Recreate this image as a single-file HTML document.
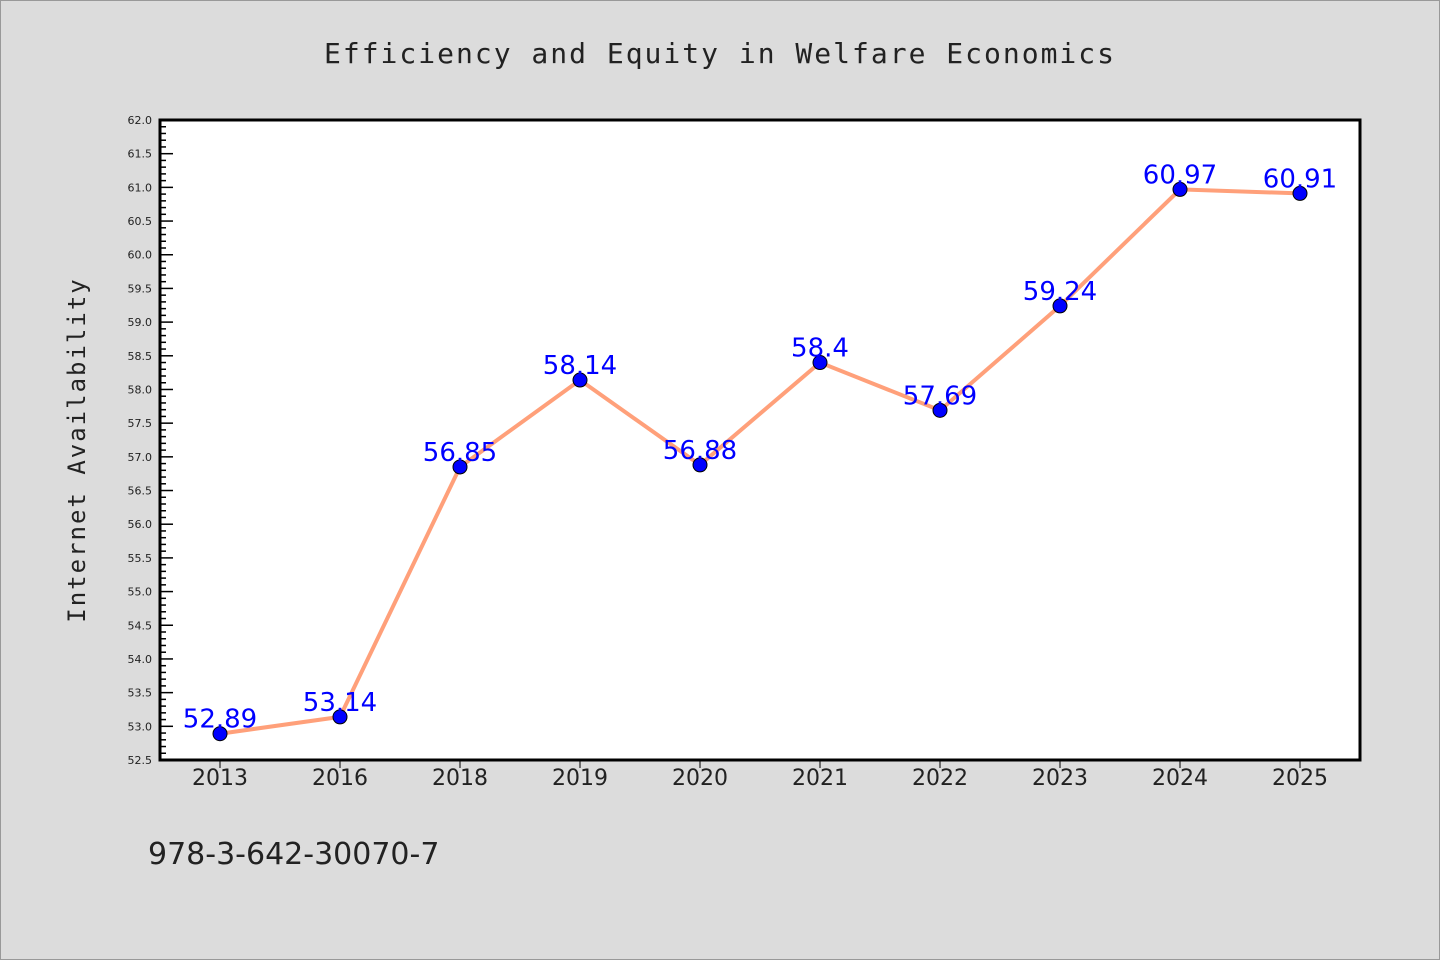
<!DOCTYPE html>
<html><head><meta charset="utf-8"><style>
body{margin:0;background:#dcdcdc;}
svg{display:block;font-family:"DejaVu Sans","Liberation Sans",sans-serif;}
</style></head><body>
<svg id="chart" width="1440" height="960">
<rect x="0.5" y="0.5" width="1439" height="959" fill="#dcdcdc" stroke="#999"/>
<text x="720" y="63" text-anchor="middle" font-size="28" letter-spacing="2" fill="#222" font-family="DejaVu Sans Mono, Liberation Mono, monospace">Efficiency and Equity in Welfare Economics</text>
<rect x="160" y="120" width="1200" height="640" fill="#fff"/>
<g id="yaxis"></g>
<g id="xaxis"></g>
<g id="series"></g>
<rect x="160" y="120" width="1200" height="640" fill="none" stroke="#000" stroke-width="3"/>
<text transform="translate(85,450) rotate(-90)" text-anchor="middle" font-size="24" letter-spacing="2" fill="#222" font-family="DejaVu Sans Mono, Liberation Mono, monospace">Internet Availability</text>
<text x="148" y="864" font-size="30" fill="#222">978-3-642-30070-7</text>
</svg>
<script>
const categories=["2013","2016","2018","2019","2020","2021","2022","2023","2024","2025"];
const values=[52.89,53.14,56.85,58.14,56.88,58.4,57.69,59.24,60.97,60.91];
const valueLabels=["52.89","53.14","56.85","58.14","56.88","58.4","57.69","59.24","60.97","60.91"];
const yMin=52.5, yMax=62.0;
const NS="http://www.w3.org/2000/svg";
function y(v){return 760-(v-yMin)/(yMax-yMin)*640;}
function x(i){return 160+1200/categories.length*(i+0.5);}
function mk(tag,attrs,parent){const e=document.createElementNS(NS,tag);for(const k in attrs)e.setAttribute(k,attrs[k]);parent.appendChild(e);return e;}
const ya=document.getElementById('yaxis'),xa=document.getElementById('xaxis'),sg=document.getElementById('series');
for(let k=0;k<=Math.round((yMax-yMin)*10);k++){
  const v=yMin+k*0.1, yy=y(v), major=k%5===0;
  const t=mk('line',{x1:160,x2:major?173:166,y1:yy,y2:yy,stroke:'#000','stroke-width':1.5},ya);
  
  
  if(major){
    const l=mk('text',{x:152,y:yy+4,'text-anchor':'end','font-size':11,fill:'#222'},ya);
    l.textContent=v.toFixed(1);
    
    
  }
}
categories.forEach((c,i)=>{
  const t=mk('line',{x1:x(i),x2:x(i),y1:760,y2:768,stroke:'#000','stroke-width':1},xa);
  
  
  const l=mk('text',{x:x(i),y:785,'text-anchor':'middle','font-size':22,fill:'#222'},xa);
  l.textContent=c;
  
  
});
const line=mk('polyline',{points:values.map((v,i)=>x(i)+','+y(v)).join(' '),fill:'none',stroke:'#ffa07a','stroke-width':4},sg);


values.forEach((v,i)=>{
  const p=mk('circle',{cx:x(i),cy:y(v),r:7,fill:'#0000ff',stroke:'#000','stroke-width':1},sg);
  
  
  const l=mk('text',{x:x(i),y:y(v)-6,'text-anchor':'middle','font-size':26,fill:'#0000ff'},sg);
  l.textContent=valueLabels[i];
  
  
});
</script>
</body></html>
